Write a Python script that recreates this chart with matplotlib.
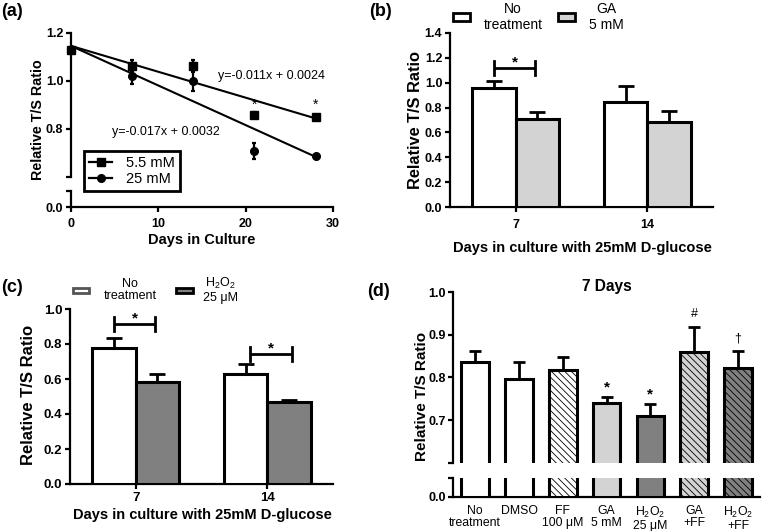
import matplotlib
matplotlib.use('Agg')
import matplotlib.pyplot as plt
from matplotlib.patches import Rectangle
from matplotlib.lines import Line2D
import numpy as np

plt.rcParams['font.family'] = ['Liberation Sans', 'DejaVu Sans']
plt.rcParams['mathtext.fontset'] = 'custom'
plt.rcParams['mathtext.rm'] = 'Liberation Sans'
plt.rcParams['mathtext.it'] = 'Liberation Sans:italic'
plt.rcParams['mathtext.bf'] = 'Liberation Sans:bold'
plt.rcParams['mathtext.default'] = 'regular'
plt.rcParams['hatch.linewidth'] = 0.6

# ---------------- data ----------------
# (a)
a_days = [0, 7, 14, 21, 28]
a_55 = [1.13, 1.062, 1.06, 0.857, 0.847]
a_55_err = [0.0, 0.025, 0.025, 0.012, 0.012]
a_25 = [1.13, 1.02, 0.999, 0.707, 0.686]
a_25_err = [0.0, 0.035, 0.044, 0.033, 0.0]
a_fit_x = [0, 28]
a_fit_55 = [1.145, 0.843]
a_fit_25 = [1.145, 0.683]
a_eq_55 = "y=-0.011x + 0.0024"
a_eq_25 = "y=-0.017x + 0.0032"
a_sig_days = [21, 28]
a_sig_y = 0.9
a_labels = ['5.5 mM', '25 mM']

# (b)
b_groups = ['7', '14']
b_series = ['No\ntreatment', 'GA\n5 mM']
b_notreat = [0.955, 0.847]
b_notreat_err = [0.058, 0.126]
b_ga = [0.708, 0.681]
b_ga_err = [0.054, 0.091]
b_sig = [(0, 1.115, -0.166, 0.147)]

# (c)
c_groups = ['7', '14']
c_series = ['No\ntreatment', 'H$_2$O$_2$\n25 μM']
c_notreat = [0.775, 0.627]
c_notreat_err = [0.057, 0.057]
c_h2o2 = [0.585, 0.467]
c_h2o2_err = [0.045, 0.015]
c_sig = [(0, 0.912, -0.166, 0.147), (1, 0.741, -0.134, 0.185)]

# (d)
d_cats = ['No\ntreatment', 'DMSO', 'FF\n100 μM', 'GA\n5 mM',
          'H$_2$O$_2$\n25 μM', 'GA\n+FF', 'H$_2$O$_2$\n+FF']
d_vals = [0.837, 0.796, 0.818, 0.741, 0.710, 0.859, 0.823]
d_err = [0.026, 0.041, 0.031, 0.013, 0.028, 0.060, 0.040]
d_marks = ['', '', '', '*', '*', '#', '†']

LIGHT = '#d3d3d3'
DARK = '#808080'
HATCH = '\\\\\\\\\\'

# ---------------- layout helpers ----------------
W, H = 762, 531
fig = plt.figure(figsize=(W / 100, H / 100), dpi=100)


def add_ax(x0, y0, x1, y1):
    return fig.add_axes([x0 / W, 1 - y1 / H, (x1 - x0) / W, (y1 - y0) / H])


def ftext(x, y, s, **kw):
    kw.setdefault('ha', 'center')
    kw.setdefault('va', 'center')
    return fig.text(x / W, 1 - y / H, s, **kw)


def style(ax, left=True, bottom=True, tsize=9):
    for s in ['top', 'right']:
        ax.spines[s].set_visible(False)
    ax.spines['left'].set_visible(left)
    ax.spines['bottom'].set_visible(bottom)
    for s in ['left', 'bottom']:
        ax.spines[s].set_linewidth(1.6)
    ax.tick_params(width=1.6, length=3.5, direction='out', labelsize=tsize, pad=2)
    for lab in ax.get_xticklabels() + ax.get_yticklabels():
        lab.set_fontweight('bold')
    ax.patch.set_alpha(0)


# ---------------- panel (a) ----------------
aU = add_ax(71, 32.7, 333, 176.7)
aL = add_ax(71, 191, 333, 207.3)
for ax in (aU, aL):
    ax.set_xlim(0, 30)
aU.set_ylim(0.6, 1.2)
aL.set_ylim(0, 0.067)
aU.set_xticks([])
aU.set_yticks([0.6, 0.8, 1.0, 1.2])
aU.set_yticklabels(['', '0.8', '1.0', '1.2'])
aL.set_yticks([0, 0.067])
aL.set_yticklabels(['0.0', ''])
aL.set_xticks([0, 10, 20, 30])
aL.set_xticklabels(['0', '10', '20', '30'])
style(aU, bottom=False)
style(aL)
aL.tick_params(axis='x', pad=4)

for vals, errs, mk in ((a_55, a_55_err, 's'), (a_25, a_25_err, 'o')):
    cont = aU.errorbar(a_days, vals, yerr=errs, fmt=mk, color='k', ms=5.5,
                       capsize=1.5, elinewidth=1.6, capthick=1.6, zorder=4)
    for art in cont.get_children():
        art.set_clip_on(False)
aU.plot(a_fit_x, a_fit_55, color='k', lw=1.5, zorder=3)
aU.plot(a_fit_x, a_fit_25, color='k', lw=1.5, zorder=3)
aU.text(23.0, 1.02, a_eq_55, ha='center', va='center', fontsize=9)
aU.text(10.9, 0.785, a_eq_25, ha='center', va='center', fontsize=9)
for d in a_sig_days:
    aU.text(d, a_sig_y, '*', ha='center', va='center', fontsize=10)

handles = [Line2D([], [], color='k', marker='s', ms=5.5, lw=1.6),
           Line2D([], [], color='k', marker='o', ms=5.5, lw=1.6)]
leg = aU.legend(handles, a_labels, loc='upper left',
                bbox_to_anchor=(84 / W, 1 - 151 / H), bbox_transform=fig.transFigure,
                borderaxespad=0, frameon=True, fancybox=False, edgecolor='k',
                framealpha=1, fontsize=10.5, handlelength=1.6, handletextpad=0.9,
                borderpad=0.35, labelspacing=0.15)
leg.get_frame().set_linewidth(2)

ftext(12, 12, '(a)', fontsize=13, fontweight='bold')
ftext(38, 120, 'Relative T/S Ratio', fontsize=10.3, fontweight='bold', rotation=90)
ftext(202, 240, 'Days in Culture', fontsize=10.5, fontweight='bold')


# ---------------- grouped bar panels (b), (c) ----------------
def grouped(ax, groups, s1, e1, s2, e2, c2, sigs, ylim, yticks, tsize, xpad):
    x = np.arange(len(groups))
    w = 0.33
    n = len(groups)
    ax.bar(x - w / 2, s1, w, color='white', edgecolor='k', lw=2.2, zorder=3)
    ax.bar(x + w / 2, s2, w, color=c2, edgecolor='k', lw=2.2, zorder=3)
    ax.errorbar(x - w / 2, s1, yerr=[np.zeros(n), e1], fmt='none', ecolor='k',
                elinewidth=2, capsize=5.5, capthick=2, zorder=2)
    ax.errorbar(x + w / 2, s2, yerr=[np.zeros(n), e2], fmt='none', ecolor='k',
                elinewidth=2, capsize=5.5, capthick=2, zorder=2)
    span = ylim[1] - ylim[0]
    for g, y, xl, xr in sigs:
        ax.plot([g + xl, g + xr], [y, y], color='k', lw=2, solid_capstyle='butt')
        for xx in (g + xl, g + xr):
            ax.plot([xx, xx], [y - 0.04 * span, y + 0.04 * span], color='k', lw=2)
        ax.text(g + (xl + xr) / 2, y + 0.035 * span, '*', ha='center', va='center',
                fontsize=11, fontweight='bold')
    ax.set_xlim(-0.5, len(groups) - 0.5)
    ax.set_ylim(*ylim)
    ax.set_yticks(yticks)
    ax.set_yticklabels([f'{v:.1f}' for v in yticks])
    ax.set_xticks(x)
    ax.set_xticklabels(groups)
    style(ax, tsize=tsize)
    ax.tick_params(axis='x', pad=xpad)


bA = add_ax(450, 32.7, 713, 207.3)
grouped(bA, b_groups, b_notreat, b_notreat_err, b_ga, b_ga_err, LIGHT, b_sig,
        (0, 1.4), [0, 0.2, 0.4, 0.6, 0.8, 1.0, 1.2, 1.4], 9, 5)
ftext(380, 12, '(b)', fontsize=13, fontweight='bold')
ftext(416, 120, 'Relative T/S Ratio', fontsize=11.8, fontweight='bold', rotation=90)
ftext(582, 248, 'Days in culture with 25mM D-glucose', fontsize=10.5, fontweight='bold')
for (x0, x1), fc, lab, tx in (((453, 470), 'white', b_series[0], 513),
                              ((558, 575), LIGHT, b_series[1], 606)):
    fig.patches.append(Rectangle((x0 / W, 1 - 20.5 / H), (x1 - x0) / W, 7 / H,
                                 transform=fig.transFigure, facecolor=fc,
                                 edgecolor='k', lw=2))
    ftext(tx, 17, lab, fontsize=10, linespacing=1.1)

cA = add_ax(70, 309, 333, 484)
grouped(cA, c_groups, c_notreat, c_notreat_err, c_h2o2, c_h2o2_err, DARK, c_sig,
        (0, 1.0), [0, 0.2, 0.4, 0.6, 0.8, 1.0], 9.5, 2.5)
ftext(12, 288, '(c)', fontsize=13, fontweight='bold')
ftext(29, 395, 'Relative T/S Ratio', fontsize=12, fontweight='bold', rotation=90)
ftext(202, 514.5, 'Days in culture with 25mM D-glucose', fontsize=10.5, fontweight='bold')
for (x0, x1), fc, ec, lab, tx in (((72.7, 89.3), 'white', '#555555', c_series[0], 130),
                                  ((176, 192.7), DARK, 'k', c_series[1], 220)):
    fig.patches.append(Rectangle((x0 / W, 1 - 292.5 / H), (x1 - x0) / W, 5 / H,
                                 transform=fig.transFigure, facecolor=fc,
                                 edgecolor=ec, lw=2))
    ftext(tx, 290, lab, fontsize=9, linespacing=1.05)

# ---------------- panel (d) ----------------
dU = add_ax(453.3, 292.3, 760, 462.7)
dL = add_ax(453.3, 477.7, 760, 496.7)
xd = np.arange(len(d_cats))
fills = ['white', 'white', 'white', LIGHT, DARK, LIGHT, DARK]
hatches = [None, None, HATCH, None, None, HATCH, HATCH]
for ax in (dU, dL):
    bars = ax.bar(xd, d_vals, 0.63, edgecolor='k', lw=2.2, zorder=3)
    for b, fc, h in zip(bars, fills, hatches):
        b.set_facecolor(fc)
        if h:
            b.set_hatch(h)
    ax.set_xlim(-0.5, len(d_cats) - 0.5)
dU.errorbar(xd, d_vals, yerr=[np.zeros(len(d_vals)), d_err], fmt='none', ecolor='k',
            elinewidth=2, capsize=4.5, capthick=2, zorder=2)
for xi, v, e, m in zip(xd, d_vals, d_err, d_marks):
    if m:
        dU.annotate(m, (xi, v + e), xytext=(0, 7 if m == '*' else 9),
                    textcoords='offset points', ha='center', va='center',
                    fontsize=11 if m == '*' else 9,
                    fontweight='bold' if m == '*' else 'normal')
dU.set_ylim(0.6, 1.0)
dL.set_ylim(0, 0.0445)
dU.set_xticks([])
dU.set_yticks([0.6, 0.7, 0.8, 0.9, 1.0])
dU.set_yticklabels(['', '0.7', '0.8', '0.9', '1.0'])
dL.set_yticks([0, 0.0445])
dL.set_yticklabels(['0.0', ''])
dL.set_xticks(xd)
dL.set_xticklabels(d_cats)
style(dU, bottom=False)
style(dL)
dL.tick_params(axis='x', length=0, pad=6)
for lab in dL.get_xticklabels():
    lab.set_fontweight('normal')
    lab.set_fontsize(8.8)
    lab.set_linespacing(1.0)
ftext(378, 292, '(d)', fontsize=13, fontweight='bold')
ftext(422, 396, 'Relative T/S Ratio', fontsize=11, fontweight='bold', rotation=90)
ftext(607, 287, '7 Days', fontsize=11.2, fontweight='bold')

fig.savefig('out.png', dpi=100)
